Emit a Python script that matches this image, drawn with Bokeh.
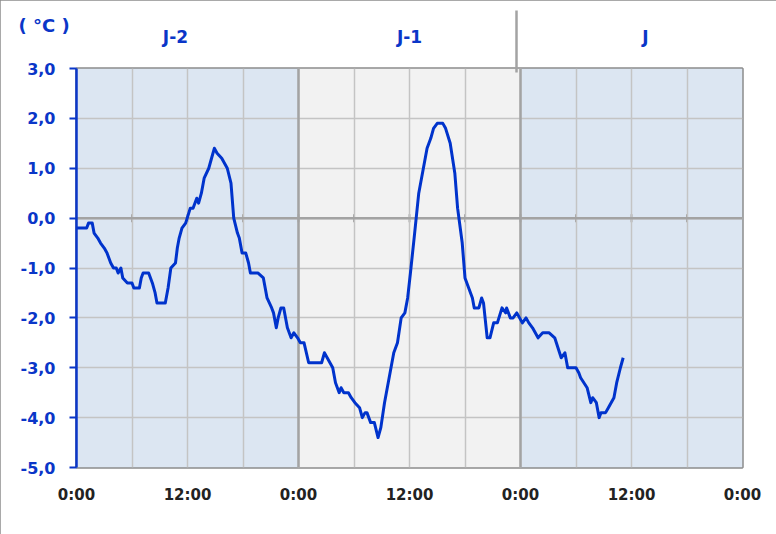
import math
from bokeh.plotting import figure
from bokeh.models import Range1d, FixedTicker, Span, LinearAxis
from bokeh.embed import file_html
from bokeh.resources import INLINE

# ---- data (hours since 0:00 of J-2, temperature in °C) ----
hours = [0.0, 1.1, 1.3, 1.7, 1.9, 2.3, 2.6, 3.0, 3.3, 3.7, 4.0, 4.3, 4.5, 4.8, 5.0, 5.5, 6.0,
         6.2, 6.8, 7.0, 7.2, 7.8, 8.2, 8.5, 8.7, 9.6, 9.9, 10.2, 10.7, 10.9, 11.1, 11.4, 11.8,
         12.3, 12.6, 13.0, 13.2, 13.5, 13.8, 14.3, 14.6, 14.9, 15.2, 15.7, 16.0, 16.3, 16.7,
         17.0, 17.4, 17.6, 17.9, 18.3, 18.6, 18.8, 19.6, 20.2, 20.4, 20.6, 21.1, 21.3, 21.6,
         21.8, 22.1, 22.4, 22.8, 23.2, 23.5, 23.9, 24.2, 24.6, 25.1, 26.5, 26.8, 27.1, 27.7,
         28.0, 28.4, 28.6, 28.9, 29.4, 29.7, 30.1, 30.6, 30.9, 31.2, 31.4, 31.8, 32.2, 32.6,
         32.9, 33.3, 33.8, 34.3, 34.7, 35.1, 35.5, 35.8, 36.1, 36.5, 37.0, 37.4, 37.9, 38.3,
         38.6, 39.0, 39.6, 39.9, 40.4, 40.9, 41.2, 41.7, 42.0, 42.4, 42.8, 43.0, 43.5, 43.8,
         44.0, 44.4, 44.7, 45.1, 45.5, 46.0, 46.4, 46.5, 46.9, 47.2, 47.6, 47.9, 48.2, 48.6,
         48.9, 49.3, 49.9, 50.4, 51.1, 51.7, 52.4, 52.8, 53.1, 54.0, 54.3, 54.5, 55.2, 55.6,
         55.8, 56.2, 56.5, 56.7, 57.2, 57.5, 58.1, 58.4, 58.8, 59.1]
temps = [-0.2, -0.2, -0.1, -0.1, -0.3, -0.4, -0.5, -0.6, -0.7, -0.9, -1.0, -1.0, -1.1, -1.0,
         -1.2, -1.3, -1.3, -1.4, -1.4, -1.2, -1.1, -1.1, -1.3, -1.5, -1.7, -1.7, -1.4, -1.0,
         -0.9, -0.6, -0.4, -0.2, -0.1, 0.2, 0.2, 0.4, 0.3, 0.5, 0.8, 1.0, 1.2, 1.4, 1.3, 1.2,
         1.1, 1.0, 0.7, 0.0, -0.3, -0.4, -0.7, -0.7, -0.9, -1.1, -1.1, -1.2, -1.4, -1.6, -1.8,
         -1.9, -2.2, -2.0, -1.8, -1.8, -2.2, -2.4, -2.3, -2.4, -2.5, -2.5, -2.9, -2.9, -2.7,
         -2.8, -3.0, -3.3, -3.5, -3.4, -3.5, -3.5, -3.6, -3.7, -3.8, -4.0, -3.9, -3.9, -4.1,
         -4.1, -4.4, -4.2, -3.7, -3.2, -2.7, -2.5, -2.0, -1.9, -1.6, -1.1, -0.4, 0.5, 0.9, 1.4,
         1.6, 1.8, 1.9, 1.9, 1.8, 1.5, 0.9, 0.2, -0.5, -1.2, -1.4, -1.6, -1.8, -1.8, -1.6, -1.7,
         -2.4, -2.4, -2.1, -2.1, -1.8, -1.9, -1.8, -2.0, -2.0, -1.9, -2.0, -2.1, -2.0, -2.1,
         -2.2, -2.4, -2.3, -2.3, -2.4, -2.8, -2.7, -3.0, -3.0, -3.1, -3.2, -3.4, -3.7, -3.6,
         -3.7, -4.0, -3.9, -3.9, -3.8, -3.6, -3.3, -3.0, -2.8]

x_ticks = [0, 12, 24, 36, 48, 60, 72]
x_labels = ["0:00", "12:00", "0:00", "12:00", "0:00", "12:00", "0:00"]
y_ticks = [-5, -4, -3, -2, -1, 0, 1, 2, 3]
y_labels = ["-5,0", "-4,0", "-3,0", "-2,0", "-1,0", "0,0", "1,0", "2,0", "3,0"]
day_starts = [0, 24, 48]
day_ends = [24, 48, 72]
day_names = ["J-2", "J-1", "J"]
day_label_x = [10.7, 36.0, 61.5]
day_colors = ["#dce6f2", "#f2f2f2", "#dce6f2"]
header_separator_x = [47.6]
unit_label = "( °C )"

BLUE = "#0a36c8"
GRAY = "#a3a3a3"
FONT = "DejaVu Sans"

p = figure(width=776, height=534, x_range=Range1d(0, 72), y_range=Range1d(-5, 3),
           output_backend="svg", toolbar_location=None,
           min_border_left=76, min_border_right=34, min_border_top=68, min_border_bottom=67,
           background_fill_color="white", border_fill_color="white",
           styles={"outline": "2px solid #8c8c8c", "outline-offset": "-2px"})

# unit label as title (top-left)
p.title.text = unit_label
p.title.align = "left"
p.title.offset = -58
p.title.standoff = -24
p.title.text_color = BLUE
p.title.text_font = FONT
p.title.text_font_style = "bold"
p.title.text_font_size = "18px"

# day bands
p.quad(left=day_starts, right=day_ends, bottom=-5, top=3, fill_color=day_colors,
       line_color=None, level="image")

# grids
p.xgrid.ticker = FixedTicker(ticks=list(range(0, 73, 6)))
p.ygrid.ticker = FixedTicker(ticks=y_ticks)
p.grid.grid_line_color = "#c4c4c4"
p.grid.grid_line_width = 1.5

for d in day_starts[1:]:
    p.add_layout(Span(location=d, dimension="height", line_color=GRAY,
                      line_width=2.5, level="underlay"))
p.add_layout(Span(location=0, dimension="width", line_color=GRAY,
                  line_width=2.5, level="underlay"))
zt = [h for h in range(6, 72, 6)]
p.scatter(zt, [0] * len(zt), marker="dash", angle=math.pi / 2, size=8,
          line_color=GRAY, line_width=2, level="underlay")

# frame
p.outline_line_color = "#8c8c8c"
p.outline_line_width = 2.5

# curve
p.line(hours, temps, line_color="#0033cc", line_width=3, line_join="round")

# y axis
p.yaxis.ticker = FixedTicker(ticks=y_ticks)
p.yaxis.major_label_overrides = {t: l for t, l in zip(y_ticks, y_labels)}
p.yaxis.axis_line_color = BLUE
p.yaxis.axis_line_width = 2.5
p.yaxis.major_tick_line_color = BLUE
p.yaxis.major_tick_line_width = 2
p.yaxis.major_tick_out = 7
p.yaxis.major_tick_in = 0
p.yaxis.minor_tick_line_color = None
p.yaxis.major_label_text_color = BLUE
p.yaxis.major_label_text_font = FONT
p.yaxis.major_label_text_font_style = "bold"
p.yaxis.major_label_text_font_size = "16px"
p.yaxis.major_label_standoff = 14

# x axis
p.xaxis.ticker = FixedTicker(ticks=x_ticks)
p.xaxis.major_label_overrides = {t: l for t, l in zip(x_ticks, x_labels)}
p.xaxis.axis_line_color = None
p.xaxis.major_tick_line_color = None
p.xaxis.minor_tick_line_color = None
p.xaxis.major_label_text_color = "#222222"
p.xaxis.major_label_text_font = FONT
p.xaxis.major_label_text_font_style = "bold"
p.xaxis.major_label_text_font_size = "15px"
p.xaxis.major_label_standoff = 12

# header axis above: day names + separator tick
top_axis = LinearAxis(ticker=FixedTicker(ticks=day_label_x, minor_ticks=header_separator_x),
                      major_label_overrides={x: n for x, n in zip(day_label_x, day_names)})
top_axis.axis_line_color = None
top_axis.major_tick_line_color = None
top_axis.minor_tick_line_color = GRAY
top_axis.minor_tick_line_width = 2.5
top_axis.minor_tick_out = 58
top_axis.minor_tick_in = 4
top_axis.major_label_text_color = BLUE
top_axis.major_label_text_font = FONT
top_axis.major_label_text_font_style = "bold"
top_axis.major_label_text_font_size = "17px"
top_axis.major_label_standoff = -36
p.add_layout(top_axis, "above")

open("out.html", "w").write(file_html(p, INLINE))
